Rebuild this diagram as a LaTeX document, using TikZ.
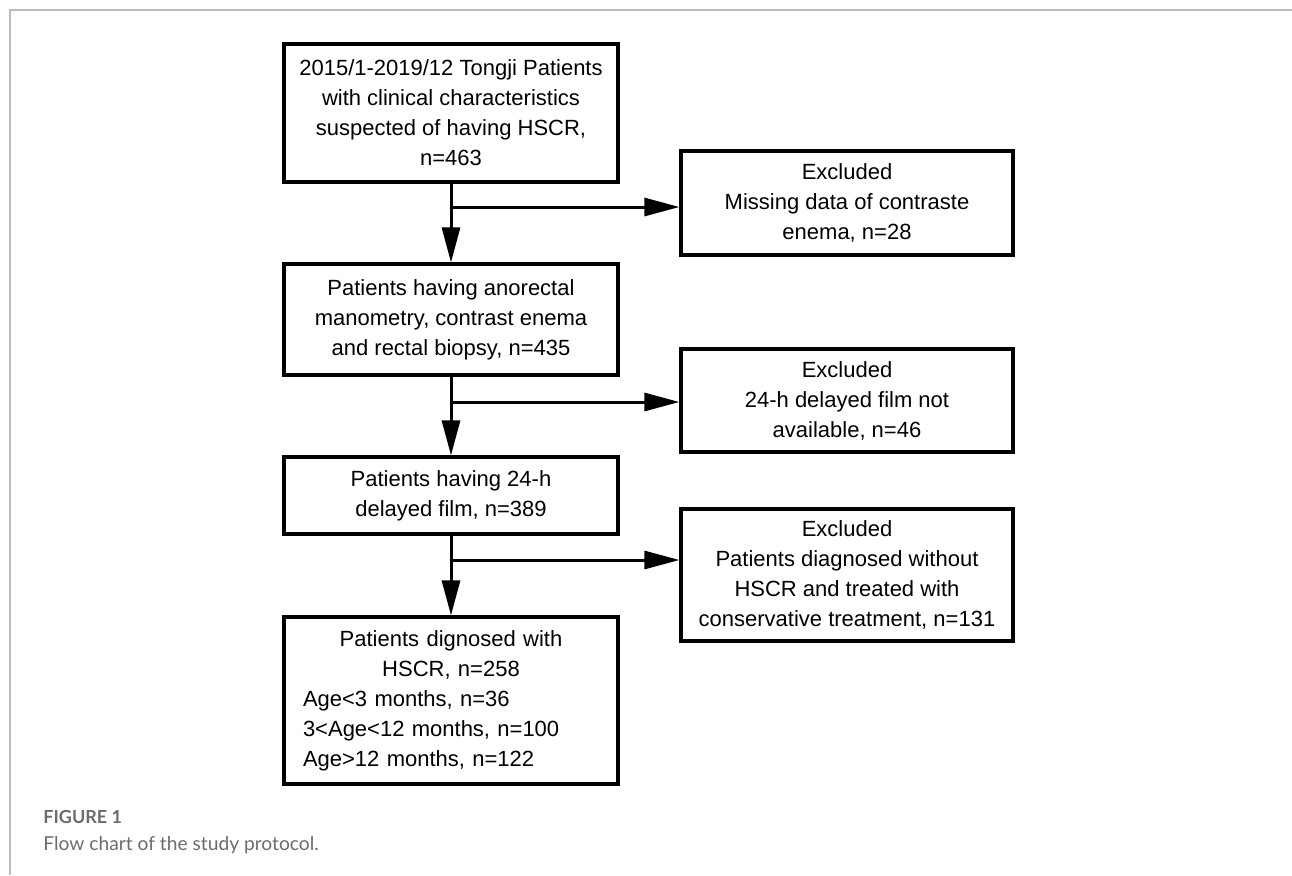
\documentclass[tikz,border=0pt]{standalone}
\usepackage{fontspec}
\setmainfont{Liberation Sans}
\newfontfamily\capfont{Lato}
\usetikzlibrary{arrows.meta}
\setlength{\parindent}{0pt}
\definecolor{framegray}{RGB}{187,187,187}
\definecolor{capgray}{RGB}{108,108,108}
\begin{document}
\begin{tikzpicture}[x=0.5pt,y=-0.5pt,line join=miter]
		\tikzset{
			flowbox/.style={draw,line width=1.6pt,inner sep=0pt,font=\fontsize{11}{15}\selectfont},
			mainbox/.style={flowbox,minimum width=167pt},
			exbox/.style={flowbox,align=center,minimum width=166pt},
			flowarrow/.style={line width=1.5pt,-{Triangle[length=17.5pt,width=9pt]}}
		}
		\useasboundingbox (0,0) rectangle (1292,875);
		\draw[framegray,line width=0.7pt] (10,875) -- (10,10) -- (1292,10);
		% main column
		\node[mainbox,align=center,minimum height=69pt] (tongji) at (451,113)
		{2015/1-2019/12 Tongji Patients\\with clinical characteristics\\suspected of having HSCR,\\n=463};
		\node[mainbox,align=center,minimum height=55.5pt] (anoman) at (451,319.5)
		{Patients having anorectal\\manometry, contrast enema\\and rectal biopsy, n=435};
		\node[mainbox,align=center,minimum height=38.5pt] (film) at (451,495.5)
		{Patients having 24-h\\delayed film, n=389};
		\node[mainbox,minimum height=83.5pt,text width=148pt] (hscr) at (451,700.5)
		{\centering Patients dignosed with\\HSCR, n=258\par
			\raggedright\parfillskip=0pt plus 1fil Age<3 months, n=36\\3<Age<12 months, n=100\\Age>12 months, n=122\par};
		% excluded column
		\node[exbox,minimum height=52pt] (exmiss) at (847,203)
		{Excluded\\Missing data of contraste\\enema, n=28};
		\node[exbox,minimum height=51.5pt] (exfilm) at (847,400.5)
		{Excluded\\24-h delayed film not\\available, n=46};
		\node[exbox,minimum height=66pt] (exnon) at (847,575)
		{Excluded\\Patients diagnosed without\\HSCR and treated with\\conservative treatment, n=131};
		% connectors
		\coordinate (b1) at (451,207);
		\coordinate (b2) at (451,402);
		\coordinate (b3) at (451,560);
		\draw[flowarrow] (tongji) -- (anoman);
		\draw[flowarrow] (anoman) -- (film);
		\draw[flowarrow] (film) -- (hscr);
		\draw[flowarrow] (b1) -- (b1 -| exmiss.west);
		\draw[flowarrow] (b2) -- (b2 -| exfilm.west);
		\draw[flowarrow] (b3) -- (b3 -| exnon.west);
		% caption
		\node[anchor=base west,inner sep=0pt,text=capgray,font=\capfont\bfseries\fontsize{9}{10}\selectfont] (fig) at (43,823) {FIGURE 1};
		\node[anchor=base west,inner sep=0pt,text=capgray,font=\capfont\fontsize{9.6}{11}\selectfont] (cap) at (43,850) {Flow chart of the study protocol.};
\end{tikzpicture}
\end{document}
